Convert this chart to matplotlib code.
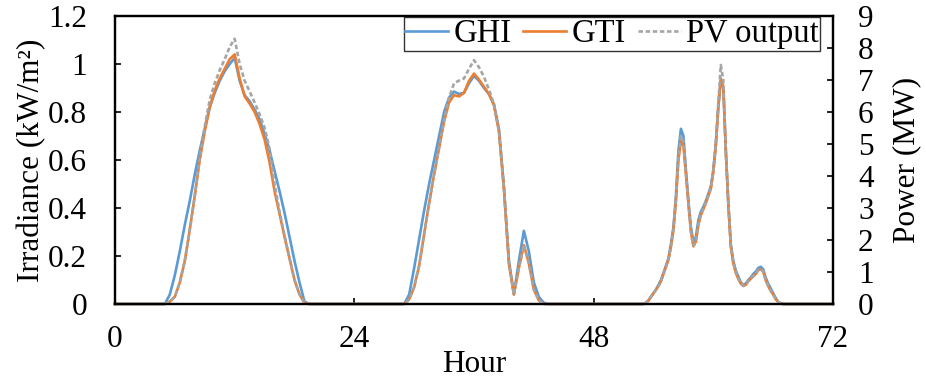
import numpy as np
import matplotlib
matplotlib.use("Agg")
import matplotlib.pyplot as plt
from matplotlib.ticker import FuncFormatter

plt.rcParams["font.family"] = ["Liberation Serif", "DejaVu Serif"]

# hour grids for the three daylight windows (zeros outside them)
hours_d1 = np.arange(5.0, 20.0, 0.5)
hours_d2 = np.arange(29.0, 44.0, 0.5)
hours_d3 = np.arange(53.0, 67.75, 0.25)

# irradiance, kW/m2
ghi_d1 = [0, 0.04, 0.12, 0.22, 0.33, 0.43, 0.54, 0.64, 0.73, 0.82, 0.88, 0.93, 0.97, 1.00, 1.025,
          0.93, 0.87, 0.845, 0.81, 0.77, 0.71, 0.64, 0.555, 0.47, 0.38, 0.28, 0.18, 0.09, 0.01, 0]
gti_d1 = [0, 0.01, 0.03, 0.09, 0.18, 0.31, 0.45, 0.60, 0.72, 0.82, 0.89, 0.94, 0.98, 1.02, 1.04,
          0.94, 0.865, 0.835, 0.80, 0.75, 0.685, 0.59, 0.47, 0.375, 0.28, 0.19, 0.10, 0.04, 0.005, 0]
ghi_d2 = [0, 0.04, 0.15, 0.27, 0.39, 0.50, 0.60, 0.70, 0.80, 0.86, 0.885, 0.875, 0.88, 0.92, 0.95,
          0.93, 0.90, 0.875, 0.83, 0.73, 0.49, 0.18, 0.04, 0.18, 0.305, 0.22, 0.09, 0.03, 0.005, 0]
gti_d2 = [0, 0.02, 0.07, 0.16, 0.29, 0.42, 0.54, 0.65, 0.76, 0.84, 0.87, 0.865, 0.88, 0.93, 0.96,
          0.935, 0.905, 0.875, 0.83, 0.72, 0.48, 0.17, 0.04, 0.15, 0.245, 0.17, 0.06, 0.015, 0, 0]
ghi_d3 = [0, 0.005, 0.015, 0.03, 0.045, 0.06, 0.08, 0.10, 0.13, 0.16, 0.19, 0.25, 0.32, 0.45, 0.64,
          0.73, 0.70, 0.56, 0.43, 0.32, 0.26, 0.28, 0.35, 0.385, 0.405, 0.43, 0.46, 0.49, 0.56, 0.67,
          0.82, 0.93, 0.90, 0.64, 0.42, 0.25, 0.18, 0.14, 0.115, 0.09, 0.08, 0.085, 0.10, 0.11, 0.125,
          0.135, 0.15, 0.155, 0.145, 0.11, 0.085, 0.065, 0.045, 0.025, 0.01, 0.003, 0, 0, 0]
gti_d3 = [0, 0.005, 0.015, 0.03, 0.045, 0.06, 0.075, 0.095, 0.125, 0.155, 0.185, 0.24, 0.31, 0.43, 0.60,
          0.68, 0.66, 0.54, 0.42, 0.30, 0.24, 0.26, 0.33, 0.37, 0.395, 0.42, 0.45, 0.48, 0.55, 0.66,
          0.82, 0.94, 0.905, 0.64, 0.42, 0.24, 0.17, 0.13, 0.105, 0.085, 0.075, 0.08, 0.095, 0.105, 0.115,
          0.125, 0.14, 0.145, 0.135, 0.10, 0.075, 0.055, 0.04, 0.02, 0.008, 0.002, 0, 0, 0]

# PV output, MW
pv_d1 = [0, 0.08, 0.23, 0.68, 1.35, 2.33, 3.38, 4.58, 5.55, 6.38, 6.9, 7.31, 7.65, 8.03, 8.29,
         7.5, 6.98, 6.64, 6.3, 5.93, 5.51, 4.85, 3.75, 2.89, 2.14, 1.43, 0.75, 0.3, 0.04, 0]
pv_d2 = [0, 0.15, 0.53, 1.2, 2.2, 3.15, 4.05, 4.9, 5.75, 6.45, 6.9, 6.98, 7.05, 7.35, 7.62,
         7.4, 7.1, 6.7, 6.25, 5.4, 3.6, 1.28, 0.3, 1.13, 1.84, 1.28, 0.45, 0.11, 0, 0]
pv_d3 = [0, 0.04, 0.11, 0.23, 0.34, 0.45, 0.56, 0.71, 0.94, 1.16, 1.39, 1.8, 2.33, 3.23, 4.6,
         5.25, 5.1, 4.1, 3.17, 2.27, 1.82, 1.97, 2.5, 2.8, 3.0, 3.17, 3.4, 3.62, 4.15, 5.0,
         6.3, 7.47, 7.0, 4.8, 3.17, 1.82, 1.3, 1.0, 0.8, 0.65, 0.57, 0.6, 0.71, 0.79, 0.87,
         0.95, 1.06, 1.1, 1.02, 0.76, 0.57, 0.42, 0.3, 0.15, 0.06, 0.015, 0, 0, 0]

hours = np.concatenate([[0], hours_d1, hours_d2, hours_d3, [72]])
ghi = np.concatenate([[0], ghi_d1, ghi_d2, ghi_d3, [0]])
gti = np.concatenate([[0], gti_d1, gti_d2, gti_d3, [0]])
pv = np.concatenate([[0], pv_d1, pv_d2, pv_d3, [0]])

FS = 22.5
fig = plt.figure(figsize=(9.26, 3.79), dpi=100)
ax = fig.add_axes([115 / 926, 1 - 304 / 379, 718 / 926, 288 / 379])
ax2 = ax.twinx()

l1, = ax.plot(hours, ghi, color="#5B9BD5", lw=1.9, label="GHI", clip_on=False)
l2, = ax.plot(hours, gti, color="#ED7D31", lw=1.9, label="GTI", clip_on=False)
l3, = ax2.plot(hours, pv, color="#A5A5A5", lw=1.9, ls=(0, (1.7, 1.0)),
               label="PV output", clip_on=False)

ax.set_xlim(0, 72)
ax.set_ylim(0, 1.2)
ax2.set_ylim(0, 9)
ax.set_xticks([0, 24, 48, 72])
ax.set_yticks(np.arange(0, 1.21, 0.2))
ax2.set_yticks(range(0, 10))
ax.yaxis.set_major_formatter(FuncFormatter(lambda v, p: f"{v:g}"))

for a in (ax, ax2):
    for s in a.spines.values():
        s.set_linewidth(1.6)
        s.set_color("black")
ax.tick_params(axis="both", direction="in", length=4.5, width=1.2, labelsize=FS)
ax.tick_params(axis="x", pad=15)
ax.tick_params(axis="y", pad=20)
ax2.tick_params(axis="y", direction="in", length=4.5, width=1.2, labelsize=FS, pad=18)

ax.set_xlabel("Hour", fontsize=FS)
ax.xaxis.set_label_coords(0.5, -0.158)
ax.set_ylabel("Irradiance (kW/m²)", fontsize=FS)
ax.yaxis.set_label_coords(-0.096, 0.5)
ax2.set_ylabel("Power (MW)", fontsize=FS)
ax2.yaxis.set_label_coords(1.082, 0.5)

leg = ax2.legend(handles=[l1, l2, l3], loc="upper right", bbox_to_anchor=(0.982, 0.997),
                 ncol=3, fontsize=23.5, frameon=True, fancybox=False, borderaxespad=0,
                 handlelength=1.32, handletextpad=0.15, columnspacing=0.37, borderpad=0.05)
leg.get_frame().set_edgecolor("black")
leg.get_frame().set_linewidth(1.0)

fig.savefig("out.png", dpi=100)
